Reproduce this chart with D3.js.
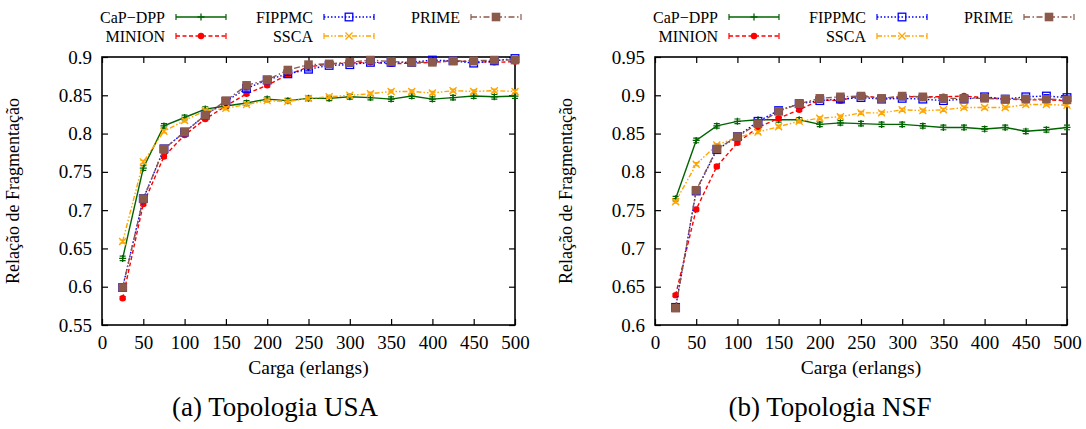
<!DOCTYPE html>
<html>
<head>
<meta charset="utf-8">
<script src="https://cdn.jsdelivr.net/npm/d3@7"></script>
<style>
  body { margin: 0; background: #fff; }
  text { font-family: "Liberation Serif", "DejaVu Serif", serif; }
</style>
</head>
<body>
<svg id="chart" width="1086" height="429"></svg>
<script>
// carga (erlangs)
var loads = [25, 50, 75, 100, 125, 150, 175, 200, 225, 250, 275, 300, 325, 350, 375, 400, 425, 450, 475, 500];
var xTicks = [0, 50, 100, 150, 200, 250, 300, 350, 400, 450, 500];

var seriesNames = ["CaP\u2212DPP", "MINION", "FIPPMC", "SSCA", "PRIME"];

// Topologia USA
var usaCapDpp = [0.637, 0.755, 0.810, 0.821, 0.832, 0.836, 0.840, 0.845, 0.843, 0.846, 0.846, 0.848, 0.847, 0.845, 0.849, 0.845, 0.847, 0.849, 0.848, 0.849];
var usaMinion = [0.585, 0.708, 0.770, 0.798, 0.819, 0.836, 0.852, 0.863, 0.877, 0.887, 0.891, 0.892, 0.893, 0.891, 0.892, 0.893, 0.895, 0.894, 0.893, 0.894];
var usaFippmc = [0.599, 0.715, 0.780, 0.802, 0.824, 0.842, 0.859, 0.870, 0.878, 0.884, 0.889, 0.890, 0.893, 0.893, 0.893, 0.896, 0.895, 0.892, 0.895, 0.898];
var usaSsca   = [0.659, 0.763, 0.803, 0.817, 0.830, 0.833, 0.838, 0.843, 0.842, 0.846, 0.848, 0.850, 0.852, 0.855, 0.855, 0.853, 0.856, 0.855, 0.856, 0.855];
var usaPrime  = [0.599, 0.715, 0.780, 0.802, 0.824, 0.843, 0.863, 0.870, 0.883, 0.890, 0.891, 0.893, 0.896, 0.894, 0.893, 0.893, 0.895, 0.895, 0.896, 0.896];
var usaYTicks = [0.55, 0.6, 0.65, 0.7, 0.75, 0.8, 0.85, 0.9];

// Topologia NSF
var nsfCapDpp = [0.765, 0.841, 0.860, 0.866, 0.868, 0.868, 0.868, 0.862, 0.864, 0.863, 0.862, 0.862, 0.860, 0.858, 0.858, 0.856, 0.858, 0.853, 0.855, 0.858];
var nsfMinion = [0.639, 0.751, 0.807, 0.838, 0.858, 0.870, 0.881, 0.894, 0.893, 0.900, 0.896, 0.898, 0.898, 0.898, 0.899, 0.897, 0.895, 0.894, 0.894, 0.893];
var nsfFippmc = [0.623, 0.775, 0.829, 0.846, 0.866, 0.880, 0.889, 0.893, 0.895, 0.897, 0.895, 0.896, 0.895, 0.893, 0.895, 0.898, 0.895, 0.898, 0.899, 0.897];
var nsfSsca   = [0.761, 0.810, 0.835, 0.845, 0.852, 0.859, 0.866, 0.870, 0.872, 0.877, 0.877, 0.881, 0.880, 0.881, 0.884, 0.884, 0.884, 0.888, 0.888, 0.887];
var nsfPrime  = [0.622, 0.776, 0.830, 0.846, 0.863, 0.879, 0.889, 0.896, 0.898, 0.899, 0.896, 0.899, 0.898, 0.896, 0.896, 0.896, 0.895, 0.895, 0.895, 0.894];
var nsfYTicks = [0.6, 0.65, 0.7, 0.75, 0.8, 0.85, 0.9, 0.95];

// half width of the confidence intervals (read as roughly constant)
var errHalf = [0.003, 0.002, 0.002, 0.002, 0.002];

var styles = [
    {color: "#006400", dash: null,               marker: "plus"},
    {color: "#ff0000", dash: "4,2.5",            marker: "circle"},
    {color: "#0000ff", dash: "1.5,2",            marker: "square"},
    {color: "#ffa500", dash: "5,2,1.5,2,1.5,2",  marker: "cross"},
    {color: "#8c5a4b", dash: "6,2.5,1.5,2.5",    marker: "fsquare"}
];

var svg = d3.select("#chart");

function drawMarker(g, type, color, cx, cy) {
    if (type === "plus") {
        g.append("path").attr("d", "M" + (cx - 3.5) + "," + cy + "h7M" + cx + "," + (cy - 3.5) + "v7")
            .attr("stroke", color).attr("stroke-width", 1.3).attr("fill", "none");
    } else if (type === "circle") {
        g.append("circle").attr("cx", cx).attr("cy", cy).attr("r", 3.2).attr("fill", color);
    } else if (type === "square") {
        g.append("rect").attr("x", cx - 3.8).attr("y", cy - 3.8).attr("width", 7.6).attr("height", 7.6)
            .attr("fill", "none").attr("stroke", color).attr("stroke-width", 1.3);
    } else if (type === "cross") {
        g.append("path").attr("d", "M" + (cx - 3.5) + "," + (cy - 3.5) + "l7,7M" + (cx - 3.5) + "," + (cy + 3.5) + "l7,-7")
            .attr("stroke", color).attr("stroke-width", 1.3).attr("fill", "none");
    } else if (type === "fsquare") {
        g.append("rect").attr("x", cx - 4.3).attr("y", cy - 4.3).attr("width", 8.6).attr("height", 8.6)
            .attr("fill", color);
    }
}

function drawPanel(opts) {
    var x = d3.scaleLinear().domain([0, 500]).range([opts.left, opts.right]);
    var y = d3.scaleLinear().domain(opts.yDomain).range([325, 57]);
    var g = svg.append("g");

    var fmt = function (d) { return String(+d.toFixed(2)); };

    // axes, ticks inward on all four sides
    var bottom = g.append("g").attr("transform", "translate(0,325)")
        .call(d3.axisBottom(x).tickValues(xTicks).tickSize(-6).tickPadding(11).tickFormat(fmt));
    var top = g.append("g").attr("transform", "translate(0,57)")
        .call(d3.axisTop(x).tickValues(xTicks).tickSize(-6).tickFormat(""));
    var left = g.append("g").attr("transform", "translate(" + opts.left + ",0)")
        .call(d3.axisLeft(y).tickValues(opts.yTicks).tickSize(-6).tickPadding(10).tickFormat(fmt));
    var right = g.append("g").attr("transform", "translate(" + opts.right + ",0)")
        .call(d3.axisRight(y).tickValues(opts.yTicks).tickSize(-6).tickFormat(""));
    [bottom, top, left, right].forEach(function (a) {
        a.attr("font-family", null).attr("font-size", null);
        a.select(".domain").remove();
        a.selectAll(".tick line").attr("stroke", "#000").attr("stroke-width", 1.2);
        a.selectAll("text").attr("font-size", 19).attr("fill", "#000");
    });

    g.append("rect").attr("x", opts.left).attr("y", 57)
        .attr("width", opts.right - opts.left).attr("height", 325 - 57)
        .attr("fill", "none").attr("stroke", "#000").attr("stroke-width", 1.6);

    // series
    opts.series.forEach(function (vals, s) {
        var st = styles[s];
        var sg = g.append("g");
        var line = d3.line().x(function (d, i) { return x(loads[i]); }).y(function (d) { return y(d); });
        var p = sg.append("path").attr("d", line(vals)).attr("fill", "none")
            .attr("stroke", st.color).attr("stroke-width", 1.4);
        if (st.dash) p.attr("stroke-dasharray", st.dash);
        vals.forEach(function (v, i) {
            var cx = x(loads[i]);
            var y0 = y(v - errHalf[s]), y1 = y(v + errHalf[s]);
            sg.append("path").attr("d", "M" + cx + "," + y0 + "V" + y1 +
                    "M" + (cx - 3) + "," + y0 + "h6M" + (cx - 3) + "," + y1 + "h6")
                .attr("stroke", st.color).attr("stroke-width", 1.2).attr("fill", "none");
            drawMarker(sg, st.marker, st.color, cx, y(v));
        });
    });

    // legend: 3 columns x 2 rows, filled by column
    var colRight = [opts.left + 63, opts.left + 211, opts.left + 358];
    var rowY = [17, 36];
    seriesNames.forEach(function (name, s) {
        var col = Math.floor(s / 2), row = s % 2;
        var tx = colRight[col], ty = rowY[row];
        var st = styles[s];
        g.append("text").attr("x", tx).attr("y", ty).attr("dy", "0.35em")
            .attr("text-anchor", "end").attr("font-size", 16).text(name);
        var lx0 = tx + 11, lx1 = tx + 61;
        var ln = g.append("path").attr("d", "M" + lx0 + "," + ty + "H" + lx1)
            .attr("stroke", st.color).attr("stroke-width", 1.4).attr("fill", "none");
        if (st.dash) ln.attr("stroke-dasharray", st.dash);
        g.append("path").attr("d", "M" + lx0 + "," + (ty - 3) + "v6M" + lx1 + "," + (ty - 3) + "v6")
            .attr("stroke", st.color).attr("stroke-width", 1.2);
        drawMarker(g, st.marker, st.color, (lx0 + lx1) / 2, ty);
    });

    // axis titles and caption
    var mid = (opts.left + opts.right) / 2;
    g.append("text").attr("x", mid).attr("y", 374).attr("text-anchor", "middle")
        .attr("font-size", 19.5).text("Carga (erlangs)");
    g.append("text").attr("transform", "translate(" + (opts.left - 83) + ",191) rotate(-90)")
        .attr("text-anchor", "middle").attr("font-size", 18)
        .text("Relação de Fragmentação");
    g.append("text").attr("x", opts.captionX).attr("y", 416).attr("text-anchor", "middle")
        .attr("font-size", 27).text(opts.caption);
}

drawPanel({
    left: 102, right: 515, yDomain: [0.55, 0.9], yTicks: usaYTicks,
    series: [usaCapDpp, usaMinion, usaFippmc, usaSsca, usaPrime],
    caption: "(a) Topologia USA", captionX: 275
});
drawPanel({
    left: 655, right: 1067, yDomain: [0.6, 0.95], yTicks: nsfYTicks,
    series: [nsfCapDpp, nsfMinion, nsfFippmc, nsfSsca, nsfPrime],
    caption: "(b) Topologia NSF", captionX: 830
});
</script>
</body>
</html>
